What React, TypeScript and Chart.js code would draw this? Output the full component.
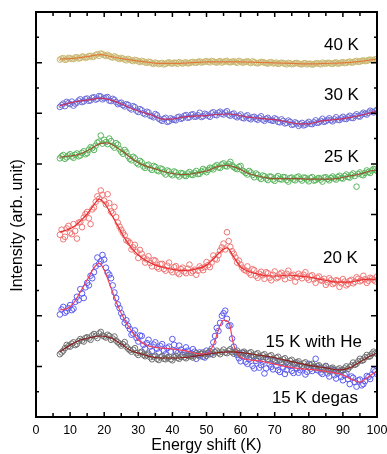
import React, { useEffect, useRef } from "react";
import { Chart, registerables } from "chart.js";

Chart.register(...registerables);

const FONT = "'Liberation Sans', Arial, sans-serif";

// Energy shift (K) of measured points (two interleaved scans)
const energy = [
  7, 8, 9, 10, 11, 12, 13, 14, 15, 16,
  17, 18, 19, 20, 21, 22, 23, 24, 25, 26,
  27, 28, 29, 30, 31, 32, 33, 34, 35, 36,
  37, 38, 39, 40, 41, 42, 43, 44, 45, 46,
  47, 48, 49, 50, 51, 52, 53, 54, 55, 56,
  57, 58, 59, 60, 61, 62, 63, 64, 65, 66,
  67, 68, 69, 70, 71, 72, 73, 74, 75, 76,
  77, 78, 79, 80, 81, 82, 83, 84, 85, 86,
  87, 88, 89, 90, 91, 92, 93, 94, 95, 96,
  97, 98, 99, 100,
];
const energyHalf = [
  7.5, 8.5, 9.5, 10.5, 11.5, 12.5, 13.5, 14.5, 15.5, 16.5,
  17.5, 18.5, 19.5, 20.5, 21.5, 22.5, 23.5, 24.5, 25.5, 26.5,
  27.5, 28.5, 29.5, 30.5, 31.5, 32.5, 33.5, 34.5, 35.5, 36.5,
  37.5, 38.5, 39.5, 40.5, 41.5, 42.5, 43.5, 44.5, 45.5, 46.5,
  47.5, 48.5, 49.5, 50.5, 51.5, 52.5, 53.5, 54.5, 55.5, 56.5,
  57.5, 58.5, 59.5, 60.5, 61.5, 62.5, 63.5, 64.5, 65.5, 66.5,
  67.5, 68.5, 69.5, 70.5, 71.5, 72.5, 73.5, 74.5, 75.5, 76.5,
  77.5, 78.5, 79.5, 80.5, 81.5, 82.5, 83.5, 84.5, 85.5, 86.5,
  87.5, 88.5, 89.5, 90.5, 91.5, 92.5, 93.5, 94.5, 95.5, 96.5,
  97.5, 98.5, 99.5,
];

// measured intensities (offset, arb. unit) at integer energies
const pts40K = [
  14.12, 14.18, 14.13, 14.17, 14.14, 14.21, 14.18, 14.23, 14.21, 14.27,
  14.24, 14.33, 14.36, 14.29, 14.31, 14.22, 14.25, 14.17, 14.19, 14.12,
  14.15, 14.08, 14.11, 14.05, 14.07, 14.01, 14.04, 13.97, 14.0, 13.94,
  13.99, 13.95, 14.01, 13.96, 13.99, 14.02, 13.96, 14.01, 13.98, 14.03,
  13.99, 14.05, 14.02, 14.06, 14.01, 14.05, 14.0, 14.06, 14.03, 14.07,
  14.01, 14.05, 13.99, 14.04, 14.01, 14.06, 13.98, 14.02, 13.97, 14.03,
  14.0, 13.96, 14.02, 13.98, 13.95, 14.0, 13.96, 13.99, 13.94, 13.98,
  13.96, 13.93, 13.98, 13.95, 13.92, 13.97, 13.95, 14.0, 13.96, 13.99,
  13.95, 14.01, 13.97, 14.02, 13.99, 14.04, 14.01, 14.07, 14.04, 14.09,
  14.07, 14.12, 14.1, 14.15,
];
const pts30K = [
  12.25, 12.38, 12.45, 12.36, 12.3, 12.42, 12.55, 12.47, 12.58, 12.51,
  12.63, 12.57, 12.66, 12.59, 12.64, 12.48, 12.53, 12.36, 12.42, 12.27,
  12.33, 12.15, 12.24, 12.05, 12.12, 11.96, 12.03, 11.88, 11.97, 11.79,
  11.7, 11.82, 11.68, 11.76, 11.72, 11.86, 11.81, 11.93, 11.84, 11.96,
  11.87, 12.02, 11.88, 11.95, 11.86, 12.04, 11.92, 12.06, 11.95, 12.08,
  11.9, 11.99, 11.84, 11.95, 11.8, 11.92, 11.76, 11.86, 11.74, 11.88,
  11.7, 11.82, 11.72, 11.8, 11.66, 11.76, 11.6, 11.71, 11.54, 11.64,
  11.5, 11.62, 11.55, 11.66, 11.57, 11.72, 11.64, 11.78, 11.69, 11.8,
  11.68, 11.84, 11.73, 11.86, 11.77, 11.9, 11.81, 11.96, 11.87, 12.02,
  11.95, 12.1, 12.03, 12.14,
];
const pts25K = [
  10.22, 10.35, 10.26, 10.38, 10.24, 10.41, 10.33, 10.5, 10.42, 10.66,
  10.55, 10.84, 11.12, 10.95, 10.78, 10.9, 10.64, 10.76, 10.48, 10.55,
  10.3, 10.14, 10.22, 9.98, 10.06, 9.84, 9.97, 9.76, 9.88, 9.71,
  9.79, 9.58, 9.7, 9.55, 9.66, 9.5, 9.62, 9.52, 9.68, 9.56,
  9.72, 9.61, 9.8, 9.67, 9.85, 9.78, 9.95, 9.84, 10.02, 9.9,
  10.08, 9.87, 9.79, 9.92, 9.7, 9.58, 9.66, 9.47, 9.57, 9.4,
  9.51, 9.36, 9.49, 9.33, 9.52, 9.38, 9.47, 9.3, 9.46, 9.35,
  9.5, 9.34, 9.45, 9.31, 9.48, 9.36, 9.44, 9.3, 9.47, 9.35,
  9.5, 9.38, 9.53, 9.42, 9.58, 9.46, 9.62, 9.1, 9.66, 9.55,
  9.74, 9.64, 9.8, 9.72,
];
const pts20K = [
  7.2, 7.02, 7.45, 7.28, 7.62, 7.05, 7.7, 7.88, 8.1, 7.62,
  8.28, 8.72, 8.95, 8.55, 8.8, 8.12, 8.3, 7.68, 7.4, 7.18,
  6.95, 6.62, 6.8, 6.28, 6.45, 6.1, 6.35, 5.95, 6.18, 5.86,
  6.05, 5.78, 6.1, 5.72, 5.96, 5.64, 5.9, 5.68, 6.02, 5.76,
  5.62, 5.95, 5.8, 6.12, 5.92, 6.38, 6.22, 6.58, 6.85, 7.3,
  6.72, 6.45, 6.1, 6.02, 5.82, 5.95, 5.62, 5.8, 5.5, 5.74,
  5.46, 5.68, 5.4, 5.75, 5.52, 5.7, 5.44, 5.78, 5.58, 5.35,
  5.66, 5.48, 5.72, 5.42, 5.6, 5.3, 5.55, 5.38, 5.22, 5.48,
  5.25, 5.4, 5.14, 5.45, 5.2, 5.38, 5.28, 5.52, 5.36, 5.58,
  5.3, 5.5, 5.42, 5.55,
];
const pts15KHe = [
  4.05, 4.35, 4.18, 4.42, 4.28, 4.75, 5.05, 4.7, 5.3, 5.58,
  5.72, 6.3, 6.15, 6.22, 5.7, 5.48, 4.92, 4.45, 4.1, 3.72,
  3.6, 3.25, 3.42, 2.98, 3.2, 2.7, 3.05, 2.6, 2.95, 2.55,
  2.88, 2.48, 2.78, 3.08, 2.6, 2.82, 2.45, 2.75, 2.4, 2.68,
  2.3, 2.55, 2.38, 2.62, 2.48, 2.95, 3.52, 3.72, 4.1, 3.88,
  3.62, 2.78, 2.45, 2.2, 2.52, 2.1, 2.38, 1.92, 2.3, 2.05,
  1.72, 2.25, 1.98, 2.2, 1.85, 2.12, 1.7, 2.05, 1.82, 2.15,
  1.75, 2.0, 1.68, 2.1, 1.82, 2.3, 1.95, 1.7, 2.02, 1.6,
  1.88, 1.52, 1.8, 1.45, 1.72, 1.3, 1.55, 1.2, 1.48, 1.3,
  1.62, 1.5, 1.85, 1.7,
];
const pts15KDegas = [
  2.48, 2.62, 2.85, 2.78, 2.95, 2.88, 3.08, 2.98, 3.15, 3.05,
  3.28, 3.12, 3.36, 3.18, 3.25, 3.05, 3.18, 2.95, 2.82, 2.96,
  2.7, 2.58, 2.72, 2.45, 2.58, 2.4, 2.5, 2.28, 2.42, 2.25,
  2.4, 2.28, 2.38, 2.24, 2.42, 2.3, 2.45, 2.32, 2.48, 2.35,
  2.52, 2.4, 2.55, 2.42, 2.6, 2.46, 2.62, 2.48, 2.66, 2.52,
  2.68, 2.5, 2.62, 2.45, 2.58, 2.42, 2.56, 2.38, 2.52, 2.35,
  2.48, 2.3, 2.44, 2.25, 2.38, 2.18, 2.32, 2.12, 2.26, 2.08,
  2.2, 2.02, 2.16, 1.96, 2.1, 1.92, 2.04, 1.88, 2.0, 1.82,
  1.95, 1.8, 1.92, 1.85, 2.0, 1.98, 2.15, 2.1, 2.3, 2.25,
  2.45, 2.4, 2.58, 2.5,
];

// measured intensities at half-integer energies
const half40K = [
  14.16, 14.11, 14.19, 14.15, 14.2, 14.16, 14.24, 14.19, 14.26, 14.22,
  14.3, 14.27, 14.34, 14.26, 14.27, 14.2, 14.21, 14.14, 14.16, 14.09,
  14.12, 14.06, 14.09, 14.02, 14.05, 13.99, 14.02, 13.95, 13.98, 13.97,
  13.93, 13.99, 13.97, 14.0, 13.95, 13.99, 14.0, 13.97, 14.01, 14.0,
  14.03, 14.0, 14.04, 14.03, 14.07, 14.02, 14.04, 14.0, 14.05, 14.02,
  14.04, 14.02, 14.07, 14.0, 14.03, 14.01, 14.05, 13.99, 14.0, 14.02,
  13.98, 14.01, 13.97, 14.0, 13.97, 13.98, 13.93, 13.97, 13.95, 13.99,
  13.94, 13.97, 13.93, 13.96, 13.94, 13.98, 13.93, 13.97, 13.99, 13.96,
  13.99, 13.96, 14.0, 13.98, 14.02, 14.0, 14.05, 14.03, 14.07, 14.06,
  14.1, 14.09, 14.13,
];
const half30K = [
  12.32, 12.28, 12.4, 12.46, 12.38, 12.5, 12.44, 12.56, 12.49, 12.61,
  12.54, 12.68, 12.55, 12.62, 12.5, 12.57, 12.44, 12.4, 12.32, 12.36,
  12.2, 12.28, 12.1, 12.16, 12.0, 12.06, 11.9, 11.84, 11.92, 11.74,
  11.78, 11.66, 11.8, 11.74, 11.84, 11.78, 11.9, 11.82, 11.94, 11.86,
  11.92, 11.85, 11.98, 11.9, 12.0, 11.94, 12.02, 11.98, 12.03, 11.94,
  11.96, 11.88, 11.9, 11.82, 11.88, 11.8, 11.84, 11.78, 11.82, 11.75,
  11.78, 11.74, 11.7, 11.76, 11.64, 11.7, 11.62, 11.66, 11.56, 11.6,
  11.56, 11.52, 11.6, 11.58, 11.64, 11.62, 11.7, 11.66, 11.74, 11.72,
  11.76, 11.74, 11.8, 11.78, 11.84, 11.82, 11.9, 11.88, 11.95, 11.98,
  12.02, 12.06, 12.08,
];
const half25K = [
  10.3, 10.2, 10.33, 10.29, 10.36, 10.3, 10.44, 10.38, 10.56, 10.62,
  10.72, 10.88, 10.8, 10.86, 11.0, 10.72, 10.82, 10.58, 10.4, 10.46,
  10.2, 10.28, 10.04, 10.12, 9.9, 9.94, 9.82, 9.92, 9.74, 9.82,
  9.66, 9.74, 9.6, 9.7, 9.56, 9.64, 9.54, 9.62, 9.58, 9.65,
  9.6, 9.7, 9.74, 9.76, 9.82, 9.9, 9.86, 9.98, 9.92, 10.0,
  9.94, 9.82, 9.88, 9.74, 9.64, 9.72, 9.56, 9.62, 9.46, 9.54,
  9.42, 9.5, 9.38, 9.46, 9.4, 9.48, 9.36, 9.44, 9.38, 9.47,
  9.4, 9.46, 9.38, 9.44, 9.34, 9.42, 9.38, 9.46, 9.4, 9.44,
  9.42, 9.48, 9.44, 9.52, 9.48, 9.56, 9.52, 9.6, 9.57, 9.64,
  9.68, 9.74, 9.78,
];
const half20K = [
  7.4, 7.12, 7.55, 7.22, 7.35, 7.68, 7.5, 8.02, 7.85, 8.2,
  8.5, 8.62, 8.78, 8.4, 8.45, 8.05, 7.9, 7.52, 7.28, 6.98,
  6.88, 6.7, 6.52, 6.6, 6.3, 6.22, 6.08, 6.2, 5.92, 6.04,
  5.85, 5.98, 5.8, 5.92, 5.7, 5.84, 5.75, 5.86, 5.7, 5.82,
  5.78, 5.88, 5.92, 6.0, 6.1, 6.25, 6.4, 6.7, 6.62, 6.95,
  6.55, 6.3, 6.18, 5.9, 5.78, 5.7, 5.84, 5.58, 5.66, 5.6,
  5.72, 5.5, 5.62, 5.48, 5.64, 5.58, 5.66, 5.5, 5.62, 5.52,
  5.58, 5.62, 5.5, 5.56, 5.44, 5.5, 5.4, 5.46, 5.32, 5.4,
  5.3, 5.38, 5.28, 5.35, 5.26, 5.42, 5.34, 5.46, 5.4, 5.44,
  5.38, 5.47, 5.36,
];
const half15KHe = [
  4.25, 4.12, 4.3, 4.22, 4.55, 4.62, 4.88, 5.12, 5.2, 5.48,
  5.95, 6.05, 6.4, 5.9, 5.62, 5.2, 4.7, 4.3, 3.95, 3.82,
  3.48, 3.3, 3.12, 3.22, 2.85, 2.92, 2.78, 2.86, 2.7, 2.8,
  2.62, 2.72, 2.58, 2.85, 2.52, 2.66, 2.58, 2.62, 2.52, 2.58,
  2.44, 2.5, 2.35, 2.52, 2.7, 3.2, 3.4, 4.0, 4.2, 3.6,
  3.1, 2.55, 2.32, 2.4, 2.18, 2.28, 2.02, 2.22, 1.95, 2.18,
  1.92, 2.08, 1.88, 2.02, 1.78, 1.96, 1.86, 2.0, 1.74, 1.92,
  1.85, 1.94, 1.78, 1.9, 1.98, 1.85, 1.76, 1.88, 1.72, 1.84,
  1.65, 1.72, 1.58, 1.66, 1.5, 1.6, 1.38, 1.45, 1.25, 1.42,
  1.58, 1.68, 1.8,
];
const half15KDegas = [
  2.55, 2.72, 2.8, 2.9, 2.84, 3.0, 3.02, 3.12, 3.1, 3.22,
  3.2, 3.3, 3.22, 3.14, 3.2, 3.1, 3.02, 2.9, 2.88, 2.78,
  2.64, 2.66, 2.52, 2.55, 2.46, 2.44, 2.36, 2.38, 2.3, 2.36,
  2.3, 2.35, 2.28, 2.36, 2.34, 2.38, 2.36, 2.42, 2.4, 2.44,
  2.46, 2.5, 2.48, 2.54, 2.5, 2.56, 2.54, 2.58, 2.55, 2.62,
  2.56, 2.58, 2.52, 2.55, 2.48, 2.52, 2.44, 2.48, 2.4, 2.44,
  2.36, 2.4, 2.3, 2.34, 2.24, 2.28, 2.18, 2.22, 2.12, 2.16,
  2.08, 2.12, 2.02, 2.06, 1.98, 2.02, 1.94, 1.96, 1.88, 1.92,
  1.86, 1.88, 1.84, 1.92, 1.9, 2.04, 2.06, 2.2, 2.22, 2.36,
  2.38, 2.5, 2.52,
];

// smoothed fit curves
const fit40KX = [7, 10, 13, 16, 19, 22, 25, 28, 32, 36, 40, 45, 50, 55, 60, 65, 70, 75, 80, 85, 90, 95, 100];
const fit40KY = [14.14, 14.16, 14.2, 14.26, 14.32, 14.24, 14.16, 14.1, 14.03, 13.97, 13.97, 13.99, 14.03, 14.03, 14.03, 14.01, 13.99, 13.97, 13.95, 13.97, 13.99, 14.05, 14.14];

const fit30KX = [7, 10, 13, 16, 19, 22, 25, 28, 31, 34, 37, 40, 43, 46, 50, 53, 56, 59, 62, 65, 68, 71, 74, 77, 80, 83, 86, 89, 92, 95, 98, 100];
const fit30KY = [12.29, 12.41, 12.49, 12.54, 12.6, 12.52, 12.37, 12.19, 12.05, 11.93, 11.77, 11.77, 11.85, 11.89, 11.91, 11.95, 11.97, 11.93, 11.85, 11.81, 11.77, 11.73, 11.65, 11.58, 11.58, 11.68, 11.73, 11.77, 11.83, 11.91, 12.01, 12.09];

const fit25KX = [7, 10, 13, 16, 19, 21, 23, 26, 29, 32, 35, 38, 41, 44, 47, 50, 53, 56, 59, 62, 65, 68, 71, 74, 77, 80, 83, 86, 89, 92, 95, 98, 100];
const fit25KY = [10.27, 10.31, 10.39, 10.59, 10.81, 10.83, 10.71, 10.43, 10.12, 9.92, 9.8, 9.68, 9.6, 9.58, 9.64, 9.72, 9.88, 9.94, 9.84, 9.64, 9.52, 9.44, 9.42, 9.42, 9.42, 9.4, 9.4, 9.4, 9.44, 9.52, 9.6, 9.72, 9.76];

const fit20KX = [7, 9, 11, 13, 15, 17, 18.5, 20, 22, 24, 26, 28, 30, 32, 35, 38, 41, 44, 47, 50, 52, 54, 56, 58, 60, 62, 65, 68, 71, 74, 77, 80, 83, 86, 89, 92, 95, 98, 100];
const fit20KY = [7.31, 7.39, 7.51, 7.74, 8.02, 8.38, 8.61, 8.46, 8.02, 7.55, 7.07, 6.68, 6.4, 6.2, 6.0, 5.89, 5.81, 5.79, 5.85, 6.0, 6.24, 6.52, 6.68, 6.32, 5.93, 5.77, 5.65, 5.57, 5.57, 5.61, 5.57, 5.53, 5.45, 5.37, 5.33, 5.33, 5.41, 5.45, 5.41];

const fit15KHeX = [7, 9, 11, 13, 15, 17, 18.5, 20, 22, 24, 26, 28, 30, 33, 36, 40, 44, 48, 50, 52, 53.5, 55, 56.5, 58, 60, 63, 66, 70, 74, 78, 82, 86, 90, 93, 95, 97, 100];
const fit15KHeY = [4.23, 4.27, 4.5, 4.94, 5.41, 5.89, 6.08, 5.81, 5.1, 4.39, 3.83, 3.4, 3.04, 2.81, 2.73, 2.69, 2.61, 2.49, 2.49, 2.84, 3.44, 3.83, 3.75, 2.84, 2.37, 2.25, 2.21, 2.09, 1.98, 1.9, 1.86, 1.78, 1.66, 1.46, 1.38, 1.54, 1.82];

const fit15KDegasX = [7, 10, 13, 16, 19, 22, 25, 28, 31, 34, 37, 41, 45, 49, 53, 57, 61, 65, 69, 73, 77, 81, 85, 89, 92, 95, 98, 100];
const fit15KDegasY = [2.57, 2.84, 3.04, 3.14, 3.2, 3.12, 2.88, 2.61, 2.49, 2.37, 2.33, 2.33, 2.37, 2.45, 2.53, 2.57, 2.53, 2.45, 2.37, 2.25, 2.13, 2.02, 1.94, 1.86, 1.94, 2.17, 2.41, 2.53];

// axis ticks
const xMajorTicks = [0, 10, 20, 30, 40, 50, 60, 70, 80, 90, 100];
const xMinorTicks = [5, 15, 25, 35, 45, 55, 65, 75, 85, 95];
const yMajorTicks = [0, 2, 4, 6, 8, 10, 12, 14, 16];
const yMinorTicks = [1, 3, 5, 7, 9, 11, 13, 15];

// curve labels (text, anchor energy, anchor intensity)
const curveLabels = ["40 K", "30 K", "25 K", "20 K", "15 K with He", "15 K degas"];
const curveLabelX = [94.7, 94.7, 94.7, 94.4, 95.6, 94.4];
const curveLabelY = [14.7, 12.72, 10.24, 6.25, 2.97, 0.72];

const series = [
  { pts: pts40K, half: half40K, fx: fit40KX, fy: fit40KY, dot: "#c8b872", line: "#e07a3a" },
  { pts: pts30K, half: half30K, fx: fit30KX, fy: fit30KY, dot: "#6c6cd8", line: "#c8305e" },
  { pts: pts25K, half: half25K, fx: fit25KX, fy: fit25KY, dot: "#58b45c", line: "#9a5530" },
  { pts: pts20K, half: half20K, fx: fit20KX, fy: fit20KY, dot: "#f07474", line: "#e63030" },
  { pts: pts15KDegas, half: half15KDegas, fx: fit15KDegasX, fy: fit15KDegasY, dot: "#6e6e6e", line: "#8c1e1e" },
  { pts: pts15KHe, half: half15KHe, fx: fit15KHeX, fy: fit15KHeY, dot: "#5a5af0", line: "#f0405a" },
];

const framePlugin = {
  id: "frameAndLabels",
  afterDatasetsDraw(chart: any) {
    const { ctx, chartArea, scales } = chart;
    const { left, right, top, bottom } = chartArea;
    const xs = scales.x;
    const ys = scales.y;
    ctx.save();
    ctx.strokeStyle = "#000";
    ctx.lineWidth = 2;
    ctx.strokeRect(left, top, right - left, bottom - top);
    ctx.lineWidth = 1.5;
    ctx.beginPath();
    xMajorTicks.forEach((v) => {
      const p = xs.getPixelForValue(v);
      ctx.moveTo(p, bottom);
      ctx.lineTo(p, bottom - 5);
      ctx.moveTo(p, top);
      ctx.lineTo(p, top + 5);
    });
    xMinorTicks.forEach((v) => {
      const p = xs.getPixelForValue(v);
      ctx.moveTo(p, bottom);
      ctx.lineTo(p, bottom - 4);
      ctx.moveTo(p, top);
      ctx.lineTo(p, top + 4);
    });
    yMajorTicks.forEach((v) => {
      const p = ys.getPixelForValue(v);
      ctx.moveTo(left, p);
      ctx.lineTo(left + 6, p);
      ctx.moveTo(right, p);
      ctx.lineTo(right - 6, p);
    });
    yMinorTicks.forEach((v) => {
      const p = ys.getPixelForValue(v);
      ctx.moveTo(left, p);
      ctx.lineTo(left + 3, p);
      ctx.moveTo(right, p);
      ctx.lineTo(right - 3, p);
    });
    ctx.stroke();

    ctx.fillStyle = "#000";
    ctx.font = `17px ${FONT}`;
    ctx.textAlign = "right";
    ctx.textBaseline = "middle";
    curveLabels.forEach((t, i) => {
      ctx.fillText(t, xs.getPixelForValue(curveLabelX[i]), ys.getPixelForValue(curveLabelY[i]));
    });

    ctx.font = `16px ${FONT}`;
    ctx.textAlign = "center";
    ctx.translate(17.5, (top + bottom) / 2 + 11);
    ctx.rotate(-Math.PI / 2);
    ctx.fillText("Intensity (arb. unit)", 0, 0);
    ctx.restore();
  },
};

export default function App() {
  const canvasRef = useRef<HTMLCanvasElement | null>(null);

  useEffect(() => {
    if (!canvasRef.current) return;
    const datasets: any[] = [];
    series.forEach((s) => {
      datasets.push({
        data: s.fx.map((x, i) => ({ x, y: s.fy[i] })),
        showLine: true,
        borderColor: s.line,
        borderWidth: 1.2,
        pointRadius: 0,
        tension: 0.4,
        cubicInterpolationMode: "monotone",
        order: 0,
      });
      const pts = energy
        .map((x, i) => ({ x, y: s.pts[i] }))
        .concat(energyHalf.map((x, i) => ({ x, y: s.half[i] })));
      datasets.push({
        data: pts,
        showLine: false,
        borderColor: s.dot,
        backgroundColor: "rgba(0,0,0,0)",
        pointBackgroundColor: "rgba(0,0,0,0)",
        pointBorderColor: s.dot,
        pointBorderWidth: 1,
        pointRadius: 2.8,
        order: 1,
      });
    });

    const chart = new Chart(canvasRef.current, {
      type: "scatter",
      data: { datasets },
      options: {
        animation: false,
        responsive: false,
        layout: { padding: { top: 12, right: 10, left: 0, bottom: 0 } },
        plugins: { legend: { display: false }, tooltip: { enabled: false } },
        scales: {
          x: {
            type: "linear",
            min: 0,
            max: 100,
            ticks: {
              stepSize: 10,
              color: "#000",
              font: { size: 12.5, family: FONT },
              padding: 6.5,
              maxRotation: 0,
              autoSkip: false,
            },
            grid: { display: false, drawTicks: false },
            border: { display: false },
            title: {
              display: true,
              text: "Energy shift (K)",
              color: "#000",
              font: { size: 16, family: FONT, lineHeight: 1 },
              padding: 0,
            },
            afterFit(s: any) {
              s.height = 37;
              s.paddingLeft = 0;
              s.paddingRight = 0;
            },
          },
          y: {
            type: "linear",
            min: 0,
            max: 16,
            ticks: { display: false, stepSize: 1 },
            grid: { display: false, drawTicks: false },
            border: { display: false },
            afterFit(s: any) {
              s.width = 36;
            },
          },
        },
      } as any,
      plugins: [framePlugin],
    });
    return () => chart.destroy();
  }, []);

  return (
    <div style={{ position: "absolute", left: 0, top: 0, width: 387, height: 454, background: "#fff" }}>
      <canvas ref={canvasRef} width={387} height={454} style={{ display: "block" }} />
    </div>
  );
}
